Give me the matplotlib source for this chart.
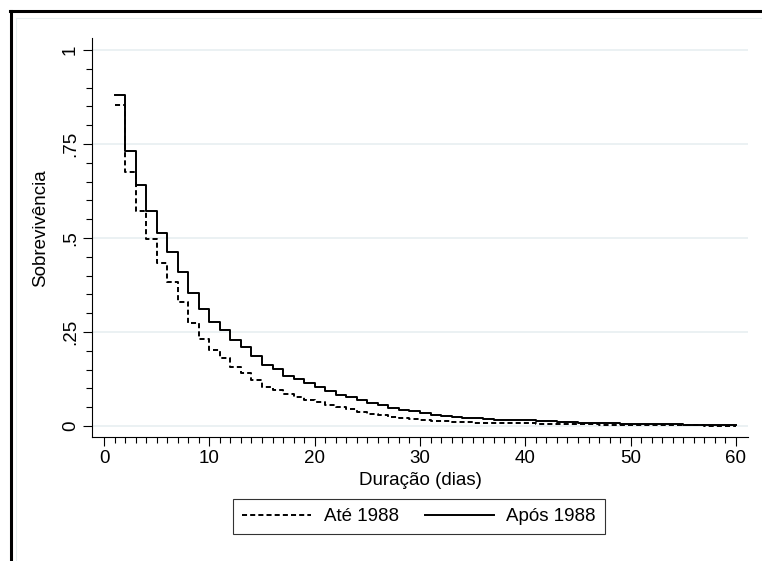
import matplotlib.pyplot as plt
from matplotlib.lines import Line2D
import numpy as np

# Kaplan-Meier style step curves, one value per day (1..60)
days = np.arange(1, 61)

ate_1988 = [
    0.854, 0.676, 0.573, 0.497, 0.434, 0.382, 0.329, 0.273, 0.231, 0.202,
    0.180, 0.158, 0.142, 0.122, 0.105, 0.096, 0.085, 0.078, 0.070, 0.063,
    0.056, 0.050, 0.044, 0.038, 0.033, 0.028, 0.024, 0.021, 0.018, 0.016,
    0.014, 0.012, 0.011, 0.010, 0.009, 0.008, 0.008, 0.007, 0.007, 0.007,
    0.006, 0.005, 0.005, 0.005, 0.004, 0.004, 0.003, 0.003, 0.003, 0.002,
    0.002, 0.002, 0.002, 0.002, 0.0015, 0.0015, 0.001, 0.001, 0.001, 0.001,
]

apos_1988 = [
    0.880, 0.731, 0.641, 0.573, 0.512, 0.463, 0.410, 0.355, 0.310, 0.277,
    0.254, 0.229, 0.209, 0.186, 0.162, 0.151, 0.133, 0.124, 0.113, 0.103,
    0.094, 0.083, 0.076, 0.068, 0.061, 0.055, 0.048, 0.043, 0.039, 0.034,
    0.030, 0.027, 0.025, 0.022, 0.020, 0.018, 0.017, 0.016, 0.015, 0.015,
    0.013, 0.012, 0.011, 0.010, 0.009, 0.008, 0.007, 0.007, 0.006, 0.005,
    0.005, 0.004, 0.004, 0.004, 0.003, 0.003, 0.003, 0.002, 0.002, 0.002,
]

x_ticks = [0, 10, 20, 30, 40, 50, 60]
y_ticks = [0, 0.25, 0.5, 0.75, 1]
y_tick_labels = ["0", ".25", ".5", ".75", "1"]
legend_labels = ["Até 1988", "Após 1988"]

plt.rcParams["font.family"] = ["Liberation Sans", "DejaVu Sans"]

W, H = 762, 561
fs = 13.5
fig = plt.figure(figsize=(W / 100, H / 100), dpi=100)
fig.patch.set_facecolor("white")

ax = fig.add_axes([92 / W, 1 - 437 / H, (748 - 92) / W, (437 - 38) / H])

grid_color = "#e6eef0"
for v in y_ticks:
    ax.axhline(v, color=grid_color, lw=1.1, zorder=0)

ax.step(days, ate_1988, where="post", color="black", lw=1.4,
        dashes=(2.6, 1.6), label=legend_labels[0])
ax.step(days, apos_1988, where="post", color="black", lw=1.4,
        label=legend_labels[1])

ax.set_xlim(-1.14, 61.14)
ax.set_ylim(-0.0293, 1.0319)

for side in ["top", "right"]:
    ax.spines[side].set_visible(False)
for side in ["left", "bottom"]:
    ax.spines[side].set_linewidth(0.8)

ax.set_xticks(x_ticks)
ax.set_xticks(np.arange(0, 61, 1), minor=True)
ax.set_yticks(y_ticks)
ax.set_yticklabels(y_tick_labels, rotation=90, va="center")
ax.set_yticks(np.arange(0, 1.001, 0.05), minor=True)

ax.tick_params(axis="both", which="major", length=6.5, width=0.8,
               labelsize=fs, pad=3)
ax.tick_params(axis="both", which="minor", length=4, width=0.8)

ax.set_xlabel("Duração (dias)", fontsize=fs, labelpad=3.5)
ax.set_ylabel("Sobrevivência", fontsize=fs)
ax.yaxis.set_label_coords(-0.066, 0.524)

leg = fig.legend(loc="center", bbox_to_anchor=(419 / W, 1 - 516.5 / H),
                 ncol=2, fontsize=fs, frameon=True, fancybox=False,
                 edgecolor="black", handlelength=3.7, handletextpad=0.65,
                 columnspacing=1.4, borderpad=0.5)
leg.get_frame().set_linewidth(0.8)

# outer graph frame (only the top and left edges show in the crop)
fig.add_artist(Line2D([11 / W, 11 / W], [0, 1 - 11 / H], color="black",
                      lw=2.2, transform=fig.transFigure))
fig.add_artist(Line2D([10 / W, 1], [1 - 11 / H, 1 - 11 / H], color="black",
                      lw=2.2, transform=fig.transFigure))
fig.add_artist(Line2D([16 / W, 16 / W], [0, 1 - 17.5 / H], color=grid_color,
                      lw=0.8, transform=fig.transFigure))
fig.add_artist(Line2D([16 / W, 1], [1 - 17.5 / H, 1 - 17.5 / H],
                      color=grid_color, lw=0.8, transform=fig.transFigure))

fig.savefig("out.png", dpi=100)
